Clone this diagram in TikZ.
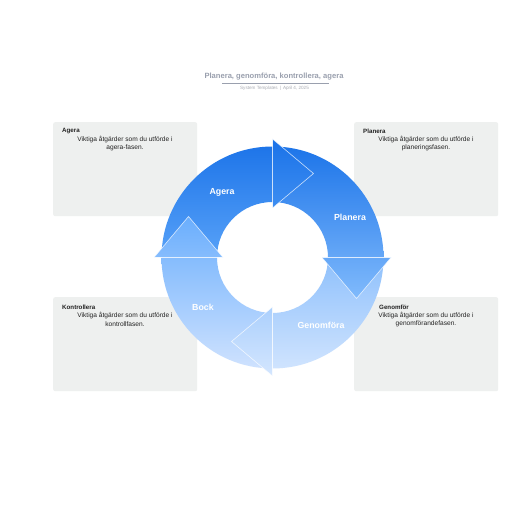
\documentclass[tikz,border=0pt]{standalone}
\usepackage{fontspec}
\setmainfont{Liberation Sans}
\definecolor{boxgray}{HTML}{EEF0EF}
\definecolor{titlegray}{HTML}{9AA0AE}
\definecolor{subgray}{HTML}{A8ABB3}
\definecolor{txtdark}{HTML}{222222}
\definecolor{aTop}{HTML}{1A72E8}
\definecolor{aBot}{HTML}{58A2F8}
\definecolor{pTop}{HTML}{1D75E9}
\definecolor{pBot}{HTML}{80BAFC}
\definecolor{gTop}{HTML}{8EC0FC}
\definecolor{gBot}{HTML}{D4E6FE}
\definecolor{bTop}{HTML}{6AAEFD}
\definecolor{bBot}{HTML}{CFE2FE}
\newcommand\shadedpart[4]{\begin{scope}\clip #1;\shade[top color=#2,bottom color=#3] #4;\end{scope}}
\begin{document}
\begin{tikzpicture}[x=1pt,y=1pt,
  infobox/.style={fill=boxgray, rounded corners=2pt, minimum width=144pt, minimum height=94pt, anchor=north west, inner sep=0pt},
  boxhead/.style={anchor=west, inner sep=0pt, font=\fontsize{6.2}{7}\selectfont\bfseries, text=txtdark},
  boxbody/.style={anchor=center, inner sep=0pt, align=center, font=\fontsize{6.6}{8.3}\selectfont, text=txtdark},
  seglabel/.style={inner sep=0pt, font=\fontsize{8.8}{10}\selectfont\bfseries, text=white},
  headline/.style={draw=white, line width=0.6pt, draw opacity=0.75, line join=round}]
\useasboundingbox (0,0) rectangle (516,516);
\fill[white] (0,0) rectangle (516,516);

% title
\node[inner sep=0pt, font=\fontsize{7.6}{9}\selectfont\bfseries, text=titlegray] (title) at (274,439) {Planera, genomföra, kontrollera, agera};
\coordinate (ulL) at (222,432.5);
\coordinate (ulR) at (329,432.5);
\draw[titlegray, line width=0.8pt] (ulL) -- (ulR);
\node[inner sep=0pt, font=\fontsize{4.6}{5}\selectfont, text=subgray] (sub) at (274.5,428) {System Templates \,|\, April 4, 2025};

% boxes
\node[infobox] (boxA) at (53,394) {};
\node[infobox] (boxP) at (354,394) {};
\node[infobox] (boxK) at (53,219) {};
\node[infobox] (boxG) at (354,219) {};

\node[boxhead] (hA) at (62,385) {Agera};
\node[boxbody] (tA) at (125,372.5) {Viktiga åtgärder som du utförde i\\agera-fasen.};
\node[boxhead] (hP) at (363,385) {Planera};
\node[boxbody] (tP) at (426,372.5) {Viktiga åtgärder som du utförde i\\planeringsfasen.};
\node[boxhead] (hK) at (62,209) {Kontrollera};
\node[boxbody] (tK) at (125,196.5) {Viktiga åtgärder som du utförde i\\kontrollfasen.};
\node[boxhead] (hG) at (379,209) {Genomför};
\node[boxbody] (tG) at (426,196.5) {Viktiga åtgärder som du utförde i\\genomförandefasen.};

% cycle
\begin{scope}[shift={(272.5,258.5)}]
  % bodies
  \shadedpart{(180:55.5) -- (180:111) arc[start angle=180,end angle=90,radius=111] -- (90:55.5) arc[start angle=90,end angle=180,radius=55.5] -- cycle}{aTop}{aBot}{(-111,0) rectangle (41,118.5)}
  \shadedpart{(90:55.5) -- (90:111) arc[start angle=90,end angle=0,radius=111] -- (0:55.5) arc[start angle=0,end angle=90,radius=55.5] -- cycle}{pTop}{pBot}{(0,-41) rectangle (118.5,111)}
  \shadedpart{(0:55.5) -- (0:111) arc[start angle=0,end angle=-90,radius=111] -- (-90:55.5) arc[start angle=-90,end angle=0,radius=55.5] -- cycle}{gTop}{gBot}{(-41,-118.5) rectangle (111,0)}
  \shadedpart{(-90:55.5) -- (-90:111) arc[start angle=-90,end angle=-180,radius=111] -- (-180:55.5) arc[start angle=-180,end angle=-90,radius=55.5] -- cycle}{bTop}{bBot}{(-118.5,-111) rectangle (0,41)}
  % heads
  \shadedpart{(0,49.5) -- (0,118.5) -- (41,84) -- cycle}{aTop}{aBot}{(-111,0) rectangle (41,118.5)}
  \draw[headline] (0,49.5) -- (0,118.5) -- (41,84) -- cycle;
  \shadedpart{(49.5,0) -- (118.5,0) -- (84,-41) -- cycle}{pTop}{pBot}{(0,-41) rectangle (118.5,111)}
  \draw[headline] (49.5,0) -- (118.5,0) -- (84,-41) -- cycle;
  \shadedpart{(0,-49.5) -- (0,-118.5) -- (-41,-84) -- cycle}{gTop}{gBot}{(-41,-118.5) rectangle (111,0)}
  \draw[headline] (0,-49.5) -- (0,-118.5) -- (-41,-84) -- cycle;
  \shadedpart{(-49.5,0) -- (-118.5,0) -- (-84,41) -- cycle}{bTop}{bBot}{(-118.5,-111) rectangle (0,41)}
  \draw[headline] (-49.5,0) -- (-118.5,0) -- (-84,41) -- cycle;
\end{scope}

\node[seglabel] (lA) at (222,324) {Agera};
\node[seglabel] (lP) at (350,299) {Planera};
\node[seglabel] (lG) at (321,191) {Genomföra};
\node[seglabel] (lB) at (203,209) {Bock};
\end{tikzpicture}
\end{document}
